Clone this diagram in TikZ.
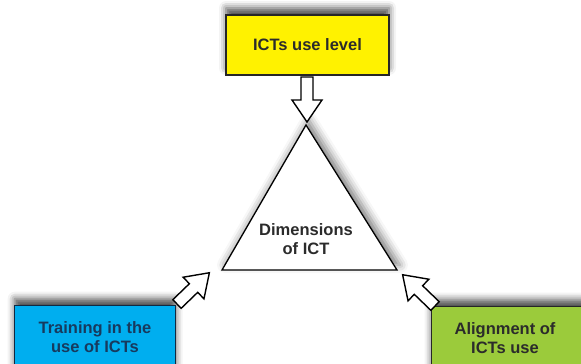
\documentclass[tikz,border=0pt]{standalone}
\usepackage{fontspec}
\setmainfont{Liberation Sans}
\usetikzlibrary{shadows.blur}
\definecolor{boxyellow}{HTML}{FFF200}
\definecolor{boxblue}{HTML}{00AEEF}
\definecolor{boxgreen}{HTML}{9BCB3B}
\definecolor{txtdark}{HTML}{2B2B2B}
\definecolor{txtblue}{HTML}{173A5E}
\tikzset{
  x=1pt, y=-1pt,
  boxstyle/.style={draw, line width=1.4pt, inner sep=0pt,
    blur shadow={shadow xshift=0pt, shadow yshift=7pt, shadow blur radius=7pt, shadow opacity=70}},
  lbl/.style={font=\fontsize{16.5}{19}\selectfont\bfseries, align=center, inner sep=0pt},
  arrowstyle/.style={draw=black, fill=white, line width=1.4pt, line join=miter},
  barrow/.pic={\draw[arrowstyle] (0,-6) -- (23,-6) -- (23,-15) -- (45,0) -- (23,15) -- (23,6) -- (0,6) -- cycle;}
}
\begin{document}
\begin{tikzpicture}
\useasboundingbox (0,0) rectangle (581,364);
\clip (0,0) rectangle (581,364);
% boxes
\node[boxstyle, fill=boxyellow, draw=black!85, minimum width=163pt, minimum height=60pt] (use) at (307.5,45) {};
\node[lbl, text=txtdark] (uset) at (use.center) {ICTs use level};
\node[boxstyle, fill=boxblue, draw=txtblue!70!black, minimum width=161pt, minimum height=80pt, anchor=north west] (train) at (14,305) {};
\node[lbl, text=txtblue] (traint) at (95,337) {Training in the\\use of ICTs};
\node[boxstyle, fill=boxgreen, draw=black!85, minimum width=170pt, minimum height=80pt, anchor=north west] (align) at (431,306) {};
\node[lbl, text=txtdark] (alignt) at (505,338) {Alignment of\\ICTs use};
% triangle
\coordinate (apex) at (306,125);
\coordinate (bl) at (222,270);
\coordinate (br) at (397,270);
\filldraw[fill=white, draw=black, line width=1.3pt, line join=miter,
  blur shadow={shadow xshift=3pt, shadow yshift=5pt, shadow blur radius=8pt, shadow opacity=50}]
  (apex) -- (br) -- (bl) -- cycle;
\node[lbl, text=txtdark] (dim) at (306,239) {Dimensions\\of ICT};
% block arrows
\pic[rotate=-90] (a1) at (307,77) {barrow};
\pic[rotate=44] (a2) at (177,304) {barrow};
\pic[rotate=136] (a3) at (435,306) {barrow};
\end{tikzpicture}
\end{document}
